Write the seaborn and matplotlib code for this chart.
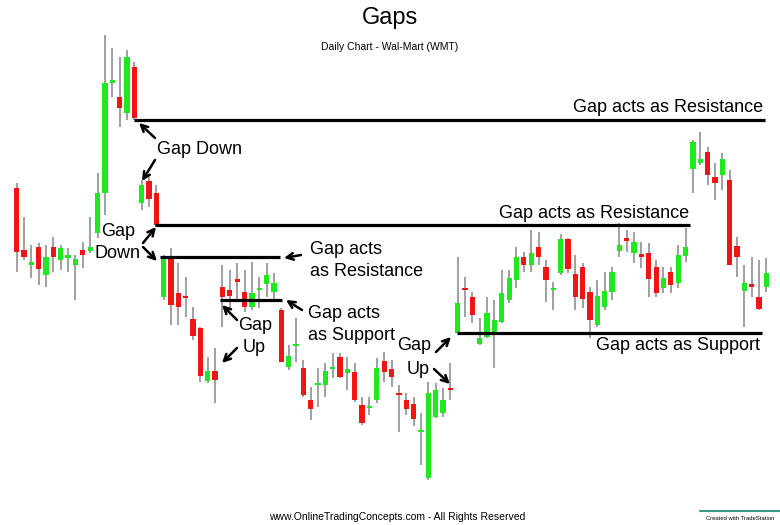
import matplotlib
matplotlib.use("Agg")
import matplotlib.pyplot as plt
import seaborn as sns
import pandas as pd

# Daily OHLC for WMT (arbitrary price units)
opens = [33.7, 27.5, 26.0, 27.8, 25.0, 27.8, 26.5, 26.7, 26.0, 27.5,
         27.4, 29.2, 33.2, 44.2, 42.8, 41.2, 45.8, 32.2, 34.4, 33.2,
         22.8, 26.7, 23.2, 22.9, 20.6, 19.7, 14.4, 15.4, 23.8, 23.5,
         24.5, 23.3, 21.8, 23.5, 24.1, 23.3, 21.5, 15.8, 17.9, 15.7,
         12.5, 14.0, 14.0, 15.6, 16.8, 15.2, 15.3, 12.0, 11.7, 12.5,
         16.4, 15.6, 13.2, 12.5, 12.1, 9.3, 4.7, 10.8, 11.2, 13.7,
         19.2, 23.7, 22.8, 18.1, 18.8, 19.3, 20.3, 22.5, 24.5, 26.8,
         26.0, 27.8, 25.8, 23.5, 25.2, 28.6, 25.1, 25.8, 23.3, 20.0,
         21.8, 23.3, 27.4, 28.7, 27.2, 27.0, 27.2, 25.8, 23.7, 25.3,
         24.2, 26.9, 35.6, 36.2, 37.3, 34.8, 35.0, 34.5, 27.9, 23.4,
         24.0, 22.8, 23.8]
highs = [34.2, 30.8, 28.0, 28.2, 28.0, 28.8, 28.0, 27.7, 27.0, 28.3,
         30.8, 35.2, 49.0, 47.7, 46.8, 47.5, 46.3, 34.5, 34.8, 34.0,
         27.0, 27.7, 26.2, 24.8, 21.8, 19.8, 16.8, 17.7, 26.0, 25.5,
         26.2, 25.5, 26.3, 24.8, 26.2, 25.2, 21.7, 18.0, 20.7, 16.5,
         13.8, 15.7, 16.2, 17.2, 17.2, 16.8, 16.2, 12.8, 12.8, 16.7,
         17.3, 16.5, 14.0, 13.2, 12.8, 11.2, 14.3, 14.2, 13.7, 16.2,
         26.8, 24.8, 23.3, 20.7, 22.8, 22.5, 25.5, 25.5, 27.8, 27.3,
         29.5, 29.3, 26.5, 24.3, 29.1, 28.7, 27.0, 26.2, 23.8, 24.5,
         25.3, 25.8, 30.2, 29.5, 29.3, 28.3, 28.2, 26.5, 25.8, 25.8,
         28.0, 29.7, 38.5, 39.3, 37.8, 36.2, 37.2, 35.5, 28.8, 26.0,
         26.8, 26.5, 26.7]
lows = [25.3, 26.5, 24.7, 24.0, 23.8, 25.3, 25.5, 25.3, 22.5, 25.7,
        27.2, 28.7, 31.0, 42.8, 39.8, 40.5, 40.5, 31.5, 31.8, 29.8,
        22.5, 20.0, 20.0, 20.8, 18.5, 14.3, 14.2, 12.2, 19.8, 21.7,
        22.5, 21.3, 21.5, 21.7, 22.8, 22.3, 16.3, 15.5, 16.3, 12.8,
        10.5, 11.8, 12.8, 14.7, 14.7, 13.5, 12.3, 10.0, 11.0, 12.2,
        14.3, 13.8, 9.3, 11.0, 9.9, 6.0, 4.5, 10.7, 10.8, 12.5,
        19.2, 20.8, 20.2, 18.0, 18.7, 15.7, 20.2, 22.2, 23.7, 25.3,
        25.3, 26.0, 22.3, 21.5, 25.0, 25.2, 21.5, 21.7, 18.7, 19.8,
        21.5, 22.5, 26.8, 27.3, 26.2, 25.7, 22.8, 22.8, 23.2, 23.2,
        23.7, 26.3, 33.2, 36.0, 34.0, 32.5, 33.5, 26.0, 24.8, 19.8,
        22.8, 21.5, 23.3]
closes = [27.3, 26.8, 26.2, 25.6, 26.8, 26.8, 27.7, 26.9, 26.6, 27.0,
          27.8, 33.2, 44.2, 44.4, 41.7, 46.8, 40.7, 34.0, 32.6, 30.0,
          26.8, 22.0, 21.8, 22.7, 18.9, 14.9, 15.4, 14.5, 22.8, 22.9,
          24.3, 21.8, 23.2, 23.7, 25.0, 24.2, 16.3, 16.9, 18.1, 13.0,
          11.6, 14.2, 15.4, 15.8, 14.8, 15.6, 12.5, 10.2, 11.9, 15.7,
          15.3, 14.8, 13.0, 11.6, 10.6, 9.5, 13.2, 13.5, 12.5, 13.5,
          22.2, 23.5, 21.0, 18.7, 21.2, 20.5, 23.2, 24.7, 26.8, 26.0,
          27.2, 26.8, 24.5, 23.7, 28.6, 25.6, 22.8, 22.6, 20.5, 22.9,
          23.4, 25.3, 28.0, 28.4, 28.3, 26.8, 24.6, 23.2, 24.7, 24.0,
          27.0, 27.8, 38.3, 36.6, 35.0, 34.2, 36.6, 26.0, 26.8, 24.2,
          23.8, 21.6, 25.2]

# gap levels: price, first bar, last bar
gap_levels = [40.5, 30.0, 26.8, 22.5, 19.2]
gap_starts = [16.0, 18.8, 19.5, 27.7, 59.9]
gap_ends = [101.8, 91.6, 35.8, 36.1, 101.4]

df = pd.DataFrame({"open": opens, "high": highs, "low": lows, "close": closes})
df["day"] = range(len(df))
df["up"] = df["close"] >= df["open"]

sns.set_theme(style="white")
plt.rcParams["font.family"] = ["Liberation Sans", "DejaVu Sans"]

UP = "#1ee81e"
DOWN = "#f01414"
WICK = "#a0a0a0"

fig = plt.figure(figsize=(7.8, 5.25), dpi=100)
ax = fig.add_axes([0, 0, 1, 1])
ax.set_xlim(-2.27, 103.85)
ax.set_ylim(0, 52.5)
ax.axis("off")

# wicks
ax.vlines(df["day"], df["low"], df["high"], color=WICK, lw=1.4, zorder=1)

# bodies
bottoms = df[["open", "close"]].min(axis=1)
heights = (df["open"] - df["close"]).abs().clip(lower=0.25)
colors = [UP if u else DOWN for u in df["up"]]
ax.bar(df["day"], heights, bottom=bottoms, width=0.72, color=colors,
       edgecolor="none", zorder=2)

# gap lines
ax.hlines(gap_levels, gap_starts, gap_ends, color="black", lw=2.3, zorder=3)


def fr(x, y):
    # pixel position -> axes fraction
    return (x / 780, 1 - y / 525)


def label(x, y, s, size=13, ha="left"):
    ax.text(*fr(x, y), s, transform=ax.transAxes, fontsize=size,
            ha=ha, va="center", color="black")


def arrow(x0, y0, x1, y1):
    ax.annotate("", xy=fr(x1, y1), xytext=fr(x0, y0),
                xycoords="axes fraction", textcoords="axes fraction",
                arrowprops=dict(arrowstyle="->", lw=1.8, color="black",
                                mutation_scale=12, shrinkA=0, shrinkB=0))


# titles
label(390, 18, "Gaps", size=17, ha="center")
label(390, 47, "Daily Chart - Wal-Mart (WMT)", size=7.5, ha="center")

# annotations
label(573, 108, "Gap acts as Resistance")
label(157, 150, "Gap Down")
arrow(155, 138, 139, 123)
arrow(155, 160, 142, 181)

label(499, 213, "Gap acts as Resistance")
label(118, 232, "Gap", ha="center")
label(118, 254, "Down", ha="center")
arrow(143, 243, 156, 227)
arrow(143, 247, 157, 261)

label(310, 250, "Gap acts")
label(310, 272, "as Resistance")
arrow(301, 255, 284, 258)

label(308, 313, "Gap acts")
label(308, 335, "as Support")
arrow(302, 310, 286, 300)

label(255, 325, "Gap", ha="center")
label(254, 348, "Up", ha="center")
arrow(237, 320, 222, 305)
arrow(237, 348, 222, 363)

label(414, 346, "Gap", ha="center")
label(418, 370, "Up", ha="center")
arrow(436, 352, 451, 337)
arrow(434, 369, 450, 384)

label(596, 345, "Gap acts as Support")

# footer
label(397, 517, "www.OnlineTradingConcepts.com - All Rights Reserved", size=7.5,
      ha="center")
ax.plot([0.898, 1.0], [fr(0, 511)[1]] * 2, transform=ax.transAxes,
        color="#3a9a8a", lw=1.5)
label(740, 519, "Created with TradeStation", size=4.2, ha="center")

fig.savefig("out.png", dpi=100)
